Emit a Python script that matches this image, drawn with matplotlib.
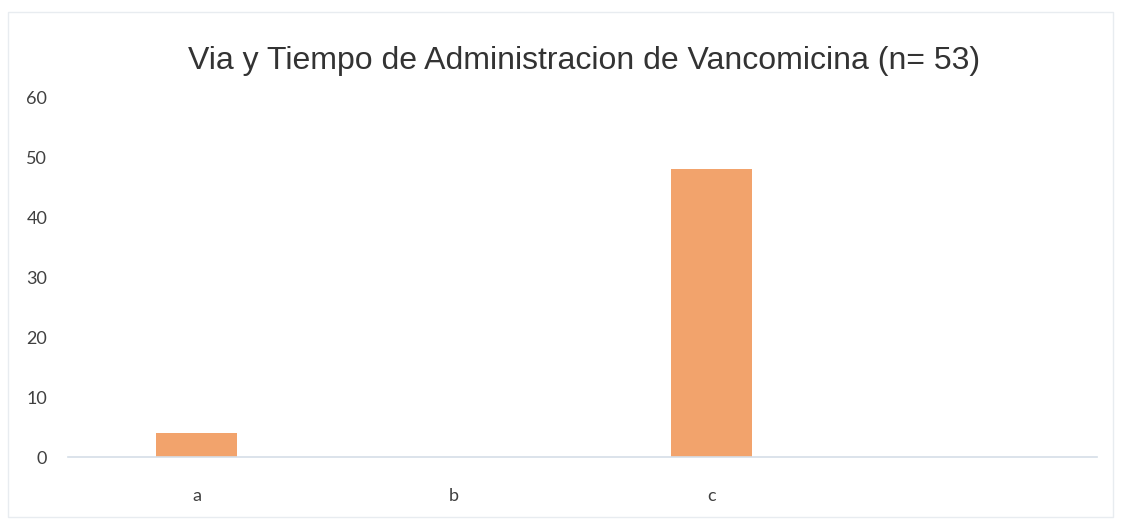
import matplotlib
matplotlib.use("Agg")
import matplotlib.pyplot as plt
from matplotlib.patches import Rectangle

categories = ["a", "b", "c", ""]
values = [4, 0, 48, 0]
yticks = [0, 10, 20, 30, 40, 50, 60]
title = "Via y Tiempo de Administracion de Vancomicina (n= 53)"

fig = plt.figure(figsize=(11.21, 5.25), dpi=100)
ax = fig.add_axes([68/1121, 1 - 457/525, (1097 - 68)/1121, (457 - 97)/525])

x = list(range(len(categories)))
ax.bar(x, values, width=0.315, color="#F2A36C", edgecolor="none")
ax.set_xlim(-0.5, len(categories) - 0.5)
ax.set_ylim(0, 60)
ax.set_yticks(yticks)
ax.set_xticks(x)
ax.set_xticklabels(categories, fontfamily="Lato", fontsize=13, color="#404040")
ax.set_yticklabels([str(v) for v in yticks], fontfamily="Lato", fontsize=13, color="#404040")
for s in ["top", "right", "left"]:
    ax.spines[s].set_visible(False)
ax.spines["bottom"].set_color("#D5DEE8")
ax.spines["bottom"].set_linewidth(1.2)
ax.tick_params(axis="both", length=0)
ax.tick_params(axis="y", pad=15)
ax.tick_params(axis="x", pad=22)

fig.text(0.521, 1 - 61/525, title, ha="center", va="center",
         fontfamily="Liberation Sans", fontsize=23, color="#333333")

fig.patches.append(Rectangle((8/1121, 1 - 517/525), 1105/1121, 505/525,
                             transform=fig.transFigure, fill=False,
                             edgecolor="#E8ECF0", linewidth=1))

fig.savefig("out.png", dpi=100)
